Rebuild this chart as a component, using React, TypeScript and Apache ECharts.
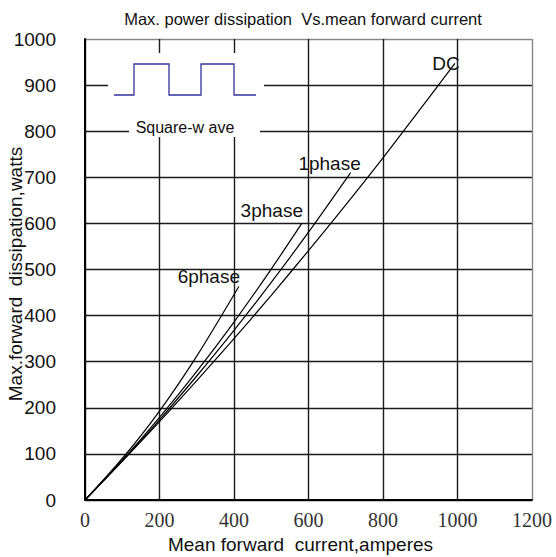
import React, { useEffect, useRef } from "react";
import * as echarts from "echarts";

// Mean forward current (A) and max. power dissipation (W)
const dcCurrent = [0, 100, 200, 300, 400, 500, 600, 700, 800, 900, 993];
const dcPower = [0, 84, 170, 259, 350, 444, 541, 640, 742, 848, 947];

const phase1Current = [0, 100, 200, 300, 400, 500, 600, 700, 713];
const phase1Power = [0, 85, 174, 269, 368, 472, 581, 695, 710];

const phase3Current = [0, 100, 200, 300, 400, 500, 582];
const phase3Power = [0, 86, 179, 279, 386, 501, 600];

const phase6Current = [0, 100, 200, 300, 413];
const phase6Power = [0, 90, 193, 312, 463];

const seriesNames = ["DC", "1phase", "3phase", "6phase"];
const labelOffsets: number[][] = [
  [-9, 0],
  [-21, -9],
  [-30, -13],
  [-30, -10],
];

const xTicks = { min: 0, max: 1200, interval: 200 };
const yTicks = { min: 0, max: 1000, interval: 100 };

const titleText = "Max. power dissipation  Vs.mean forward current";
const xName = "Mean forward  current,amperes";
const yName = "Max.forward  dissipation,watts";
const insetText = "Square-w ave";

function zip(xs: number[], ys: number[]) {
  return xs.map((x, i) => [x, ys[i]]);
}

export default function App() {
  const ref = useRef<HTMLDivElement>(null);
  useEffect(() => {
    const chart = echarts.init(ref.current!, null, { renderer: "svg" });
    const pairs = [
      zip(dcCurrent, dcPower),
      zip(phase1Current, phase1Power),
      zip(phase3Current, phase3Power),
      zip(phase6Current, phase6Power),
    ];
    const sans = '"Liberation Sans", Arial, sans-serif';
    const option: any = {
      animation: false,
      backgroundColor: "#ffffff",
      title: {
        text: titleText,
        left: 298,
        top: 5,
        textAlign: "center",
        textStyle: {
          fontFamily: sans,
          fontSize: 16.5,
          fontWeight: "normal",
          color: "#111",
        },
      },
      grid: {
        left: 85,
        top: 39,
        width: 447,
        height: 461,
        containLabel: false,
        outerBoundsMode: "none",
      },
      xAxis: {
        type: "value",
        ...xTicks,
        name: xName,
        nameLocation: "middle",
        nameGap: 34,
        nameTextStyle: {
          fontFamily: sans,
          fontSize: 19,
          color: "#111",
          padding: [0, 16, 0, 0],
        },
        axisLine: { show: true, onZero: false, lineStyle: { color: "#000", width: 2 } },
        axisTick: { show: false },
        axisLabel: {
          fontFamily: '"Liberation Serif", "DejaVu Serif", serif',
          fontSize: 20,
          color: "#333",
          margin: 10,
          formatter: (v: number) => String(v),
        },
        splitLine: {
          show: true,
          lineStyle: {
            color: ["#1a1a1a", "#1a1a1a", "#1a1a1a", "#1a1a1a", "#1a1a1a", "#1a1a1a", "#888"],
            width: 1.4,
          },
        },
      },
      yAxis: {
        type: "value",
        ...yTicks,
        axisLine: { show: true, onZero: false, lineStyle: { color: "#000", width: 2 } },
        axisTick: { show: false },
        axisLabel: {
          fontFamily: sans,
          fontSize: 19,
          color: "#111",
          margin: 29,
          formatter: (v: number) => String(v),
        },
        splitLine: {
          show: true,
          lineStyle: {
            color: [
              "#1a1a1a", "#1a1a1a", "#1a1a1a", "#1a1a1a", "#1a1a1a", "#1a1a1a",
              "#1a1a1a", "#1a1a1a", "#1a1a1a", "#1a1a1a", "#888",
            ],
            width: 1.4,
          },
        },
      },
      series: pairs.map((data, i) => ({
        type: "line",
        name: seriesNames[i],
        data,
        showSymbol: false,
        smooth: 0.3,
        lineStyle: { color: "#000", width: 1.2 },
        markPoint: {
          symbol: "circle",
          symbolSize: 1,
          itemStyle: { color: "rgba(0,0,0,0)" },
          data: [{ coord: data[data.length - 1] }],
          label: {
            show: true,
            position: "inside",
            formatter: seriesNames[i],
            offset: labelOffsets[i],
            fontFamily: sans,
            fontSize: 19,
            color: "#111",
          },
        },
      })),
      graphic: [
        {
          type: "text",
          x: 15,
          y: 274,
          rotation: Math.PI / 2,
          style: {
            text: yName,
            fontFamily: sans,
            fontSize: 19,
            fill: "#111",
            align: "center",
            verticalAlign: "middle",
          },
        },
        {
          type: "rect",
          z: 100,
          shape: { x: 108, y: 53, width: 156, height: 66 },
          style: { fill: "#fff" },
        },
        {
          type: "rect",
          z: 100,
          shape: { x: 129, y: 118, width: 131, height: 19 },
          style: { fill: "#fff" },
        },
        {
          type: "polyline",
          z: 101,
          shape: {
            points: [
              [114, 95], [134, 95], [134, 64], [169, 64], [169, 95],
              [201, 95], [201, 64], [234, 64], [234, 95], [256, 95],
            ],
          },
          style: { stroke: "#33339a", lineWidth: 1.3, fill: null },
        },
        {
          type: "text",
          z: 101,
          x: 185,
          y: 127,
          style: {
            text: insetText,
            fontFamily: sans,
            fontSize: 16,
            fill: "#111",
            align: "center",
            verticalAlign: "middle",
          },
        },
      ],
    };
    chart.setOption(option);
    return () => chart.dispose();
  }, []);
  return (
    <div
      ref={ref}
      style={{ position: "absolute", left: 0, top: 0, width: 556, height: 557 }}
    />
  );
}
